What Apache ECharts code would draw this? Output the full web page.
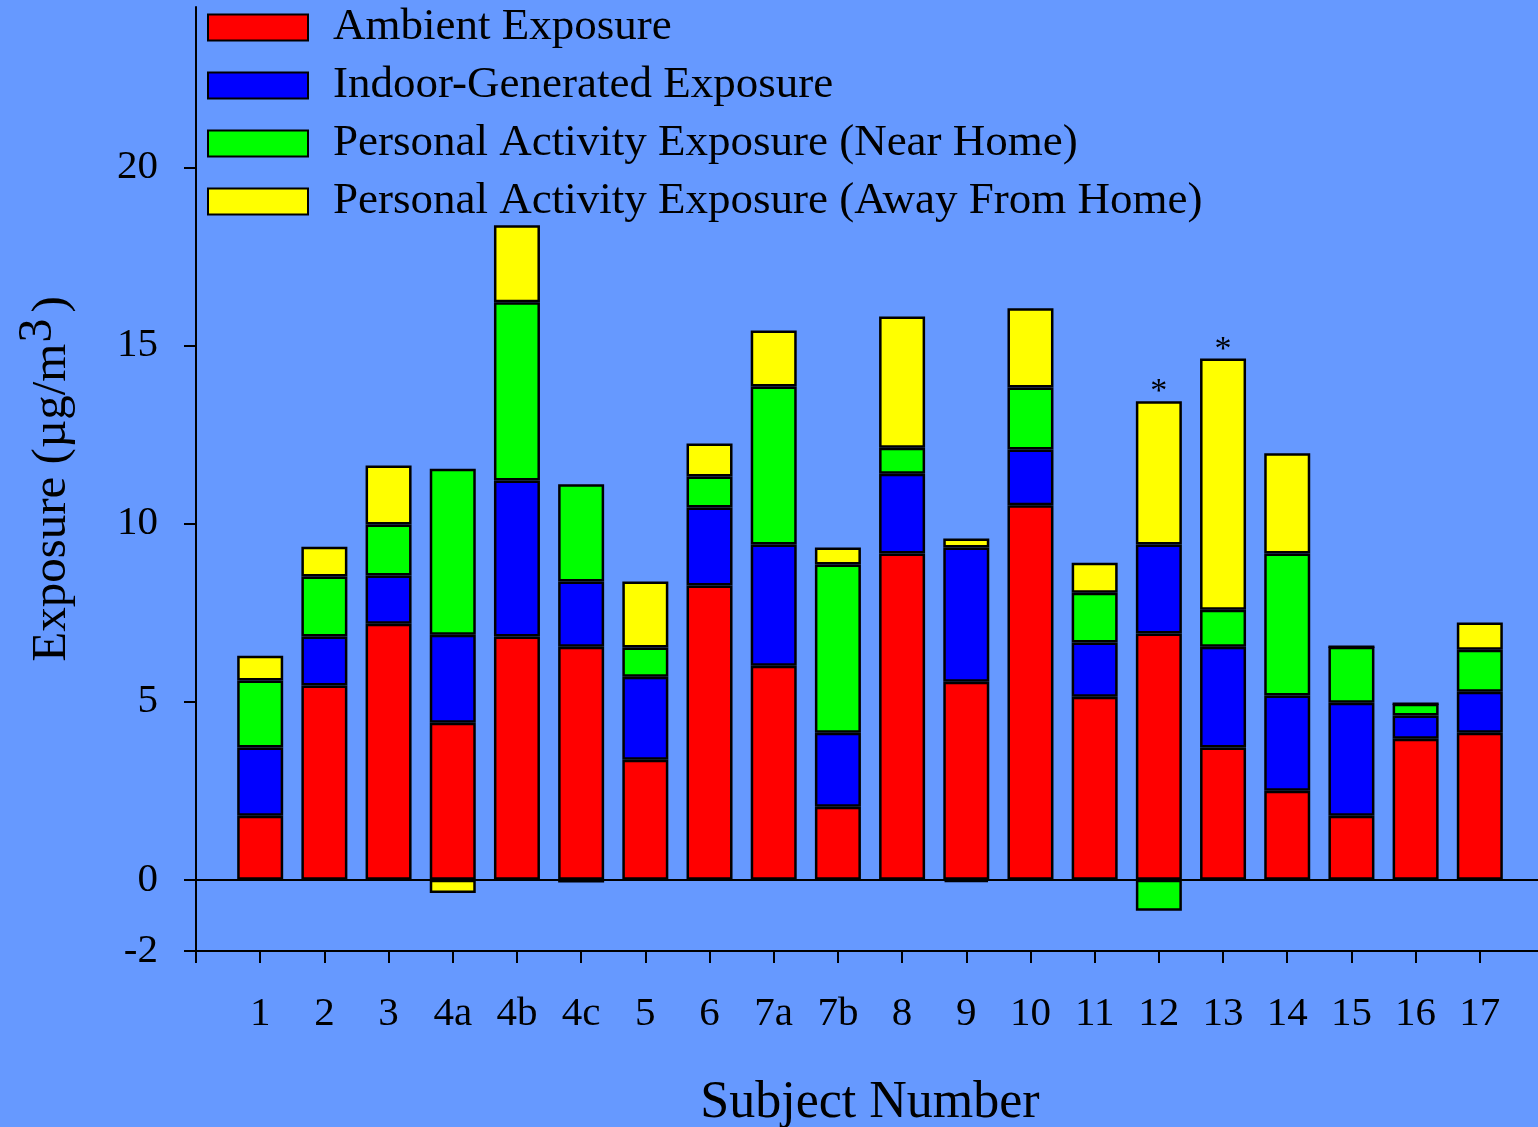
<!DOCTYPE html>
<html>
<head>
<meta charset="utf-8">
<script src="https://cdn.jsdelivr.net/npm/echarts@6/dist/echarts.min.js"></script>
<style>
html,body{margin:0;padding:0;background:#6699ff;}
#chart{width:1538px;height:1127px;}
</style>
</head>
<body>
<div id="chart"></div>
<script>
const subjects = ['1','2','3','4a','4b','4c','5','6','7a','7b','8','9','10','11','12','13','14','15','16','17'];
const ambient  = [1.80,5.45,7.19,4.41,6.83,6.54,3.37,8.26,6.01,2.05,9.16,5.56,10.51,5.14,6.91,3.71,2.50,1.80,3.96,4.13];
const indoor   = [1.91,1.38,1.35,2.47,4.38,1.83,2.33,2.19,3.40,2.08,2.24,3.77,1.57,1.52,2.50,2.83,2.67,3.17,0.65,1.15];
const nearHome = [1.88,1.68,1.43,4.66,5.00,2.73,0.82,0.87,4.44,4.72,0.73,-0.07,1.74,1.40,-0.87,1.04,3.99,1.57,0.33,1.18];
const awayHome = [0.70,0.84,1.66,-0.37,2.16,-0.08,1.85,0.93,1.57,0.48,3.68,0.25,2.22,0.84,4.02,7.05,2.81,0,0,0.76];
const starred  = ['12','13'];
const yTicks   = [-2,0,5,10,15,20];

const seriesNames = ['Ambient Exposure','Indoor-Generated Exposure','Personal Activity Exposure (Near Home)','Personal Activity Exposure (Away From Home)'];
const seriesValues = [ambient, indoor, nearHome, awayHome];
const colors = ['#ff0000','#0000ff','#00ff00','#ffff00'];
const FONT = '"Liberation Serif", "DejaVu Serif", serif';

// axis slots: an empty slot before the first subject and after the last
const categories = [''].concat(subjects, ['']);

const series = seriesValues.map((vals, si) => {
  const data = [null];
  vals.forEach((v, i) => {
    const item = { value: v };
    if (si === 3 && starred.includes(subjects[i])) {
      item.label = { show: true, position: 'top', formatter: '*', fontSize: 34, fontFamily: FONT, color: '#000', distance: 0, offset: [0, 8] };
    }
    data.push(item);
  });
  data.push(null);
  const s = {
    name: seriesNames[si],
    type: 'bar',
    stack: 'total',
    barWidth: 46,
    itemStyle: { color: colors[si], borderColor: '#000', borderWidth: 2.5 },
    data: data
  };
  if (si === 0) {
    s.markLine = {
      silent: true, symbol: 'none', label: { show: false },
      lineStyle: { color: '#000', width: 2, type: 'solid' },
      data: [{ yAxis: 0 }]
    };
  }
  return s;
});

const chart = echarts.init(document.getElementById('chart'));
chart.setOption({
  backgroundColor: '#6699ff',
  animation: false,
  grid: { left: 196, right: -6, top: 7, bottom: 176, containLabel: false, outerBoundsMode: 'none' },
  legend: {
    orient: 'vertical', left: 202, top: 0,
    itemWidth: 100, itemHeight: 26, itemGap: 13,
    icon: 'rect',
    textStyle: { fontSize: 45, fontFamily: FONT, color: '#000', lineHeight: 44, padding: [0, 0, 0, 20] },
    data: seriesNames
  },
  xAxis: {
    type: 'category', data: categories, boundaryGap: false,
    name: 'Subject Number', nameLocation: 'middle', nameGap: 126,
    nameTextStyle: { fontSize: 52, fontFamily: FONT, color: '#000' },
    axisLine: { show: true, onZero: false, lineStyle: { color: '#000', width: 2 } },
    axisTick: { show: true, length: 12, interval: 0, lineStyle: { color: '#000', width: 2 } },
    splitLine: { show: false },
    axisLabel: { fontSize: 41, fontFamily: FONT, color: '#000', margin: 43, interval: 0 }
  },
  yAxis: {
    type: 'value', min: -2, max: 24.5,
    name: 'Exposure (µg/m{sup|3})', nameLocation: 'middle', nameGap: 106,
    nameTextStyle: { fontSize: 49, fontFamily: FONT, color: '#000',
      rich: { sup: { fontSize: 48, fontFamily: FONT, color: '#000', verticalAlign: 'top', padding: [0,6,28,1] } } },
    axisLine: { show: true, onZero: false, lineStyle: { color: '#000', width: 2 } },
    axisTick: { show: true, length: 12, customValues: yTicks, lineStyle: { color: '#000', width: 2 } },
    splitLine: { show: false },
    axisLabel: { fontSize: 41, fontFamily: FONT, color: '#000', margin: 38, customValues: yTicks }
  },
  series: series
});
</script>
</body>
</html>
